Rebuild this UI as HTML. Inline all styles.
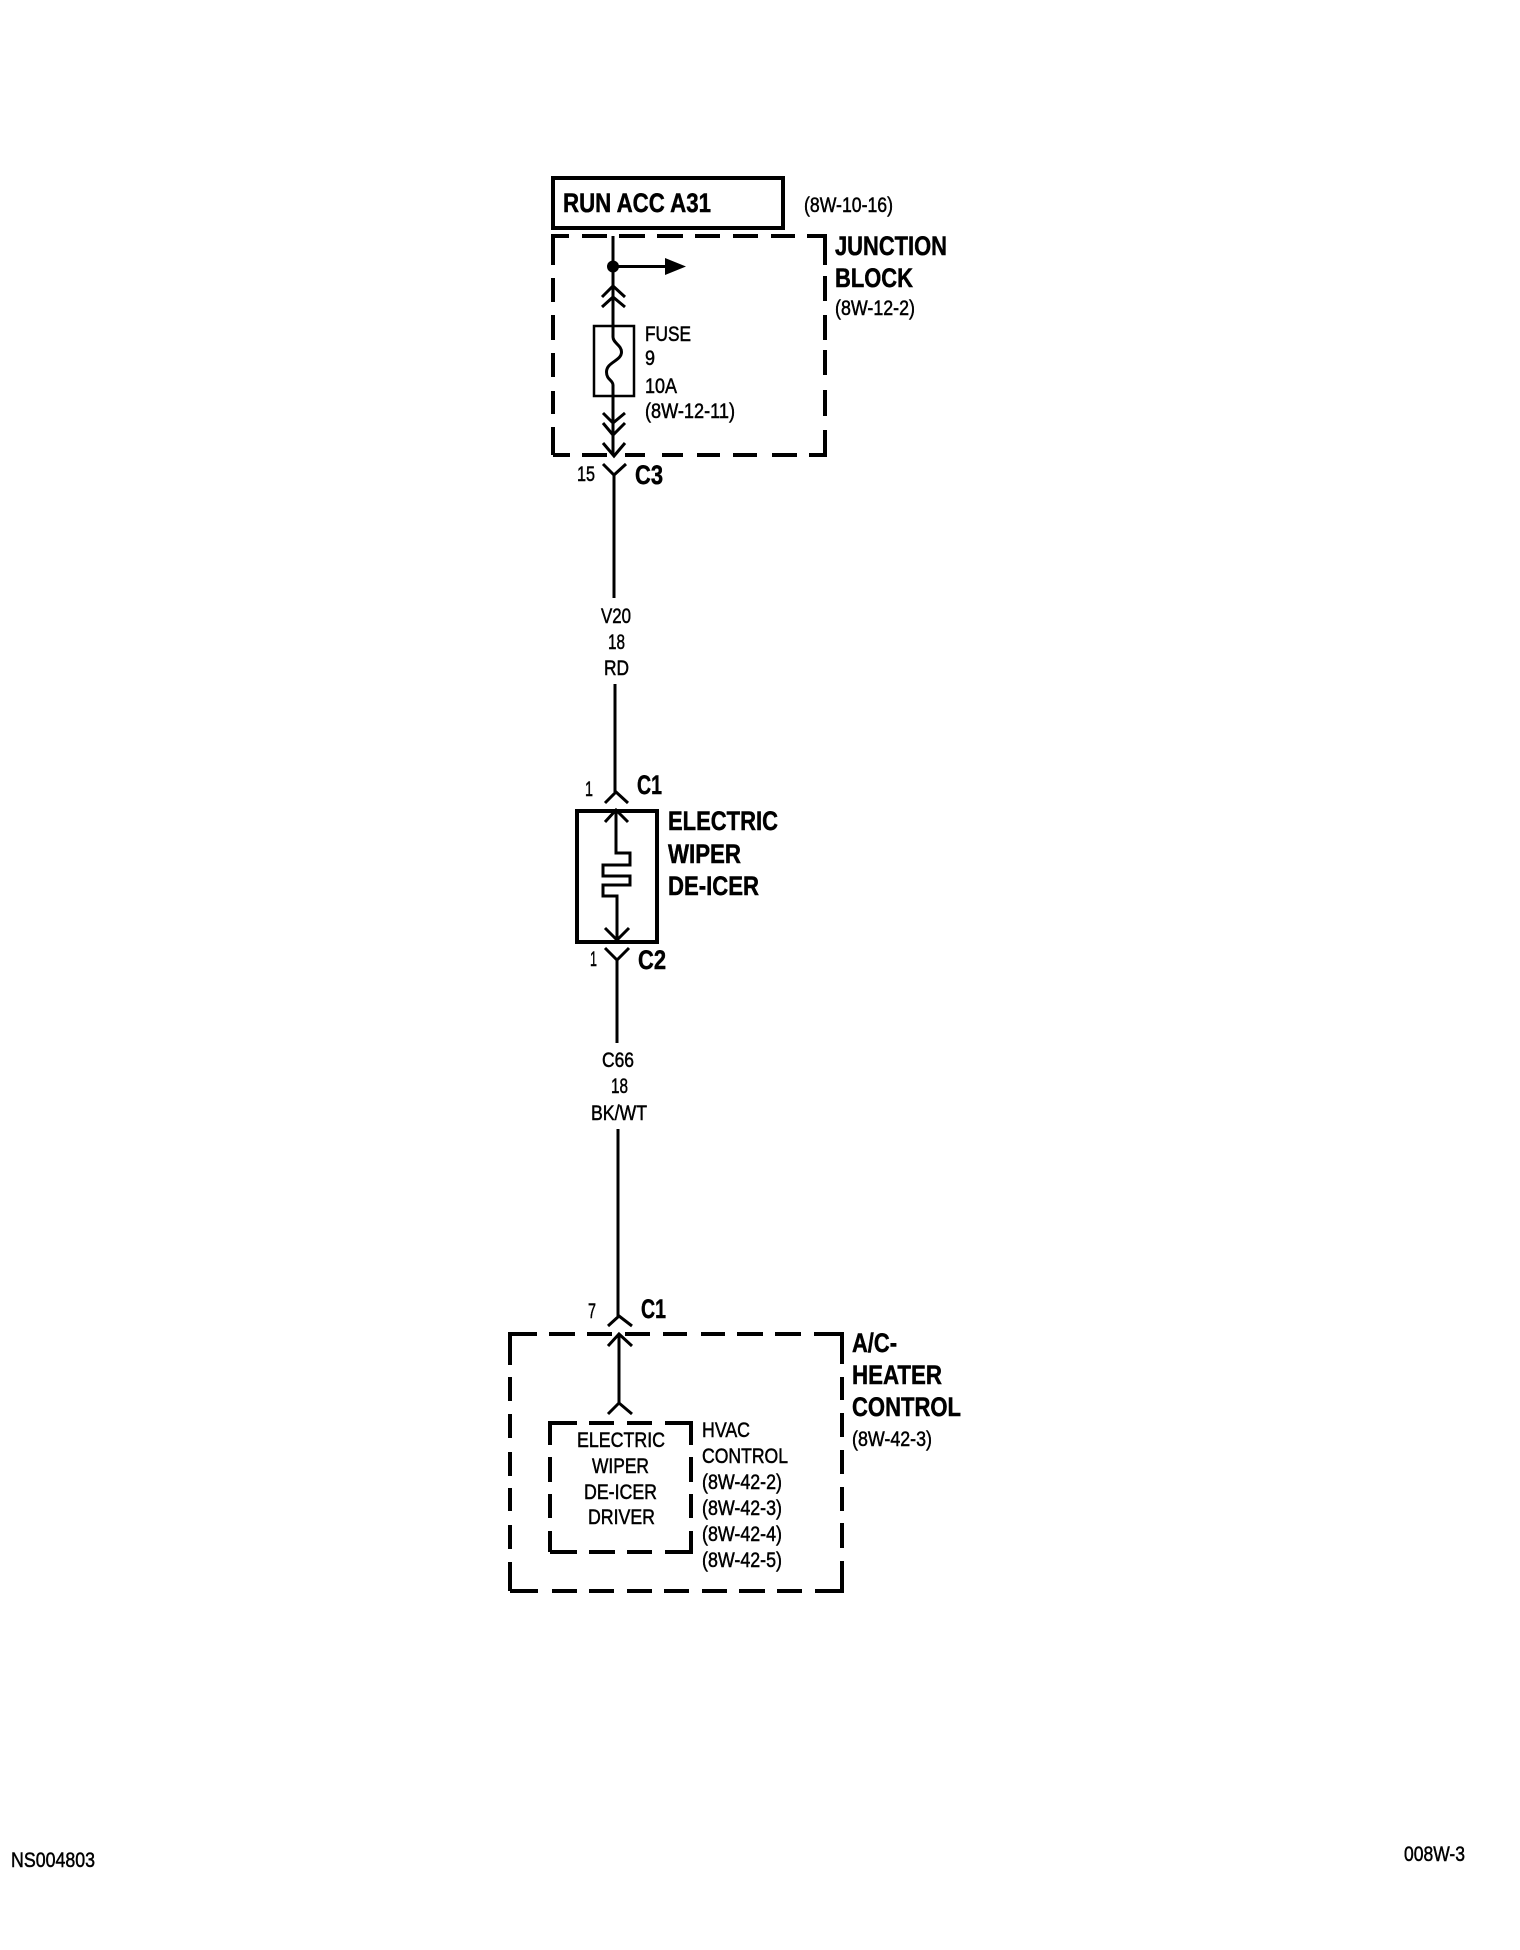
<!DOCTYPE html>
<html><head><meta charset="utf-8"><style>
html,body{margin:0;padding:0;background:#fff}
svg{display:block}
text{font-family:"Liberation Sans",sans-serif;fill:#000;stroke:#000;stroke-width:.5px}
.b{font-weight:bold;font-size:27px}
.n{font-size:21px}
.w{fill:none;stroke:#000;stroke-width:3}
.d{fill:none;stroke:#000;stroke-width:4}
</style></head><body>
<svg xmlns="http://www.w3.org/2000/svg" width="1520" height="1950" viewBox="0 0 1520 1950">
<rect width="1520" height="1950" fill="#fff"/>
<rect x="553" y="178" width="230" height="50" fill="none" stroke="#000" stroke-width="4"/>
<text class="b" x="563" y="212" textLength="148" lengthAdjust="spacingAndGlyphs">RUN ACC A31</text>
<text class="n" x="804" y="212" textLength="89" lengthAdjust="spacingAndGlyphs">(8W-10-16)</text>

<path class="d" d="M553 265V236H569M582 236H607M619 236H645M657 236H683M695 236H720M733 236H758M771 236H795M807 236H825V265M825 276V301M825 315V340M825 350V375M825 390V416M825 430V455H809M797 455H772M757 455H733M697 455H720M662 455H683M625 455H645M582 455H607M553 455H570"/>
<path class="d" d="M553 278V302M553 315V340M553 353V377M553 391V414M553 427V455"/>
<path class="w" d="M613 236V337C613 343 621.500 345 621.500 352C621.500 361 606.500 362 606.500 372C606.500 380 613 380 613 385V455M614 475V598M615 684V792"/>
<circle cx="613" cy="266.500" r="6"/>
<path class="w" d="M613 266.500H666"/>
<path d="M665 258L686 266.500L665 275Z"/>
<path class="w" d="M602 297L613 286L625 297M602 307L613 297L625 307M603 413L613 423L625 413M603 423L613 435L625 423M603 443L614 456L625 443M603 464L614 475L626 464"/>
<rect x="594" y="326" width="40" height="70" fill="none" stroke="#000" stroke-width="2.500"/>
<text class="n" x="645" y="341" textLength="46" lengthAdjust="spacingAndGlyphs">FUSE</text>
<text class="n" x="645" y="365" textLength="10" lengthAdjust="spacingAndGlyphs">9</text>
<text class="n" x="645" y="393" textLength="32" lengthAdjust="spacingAndGlyphs">10A</text>
<text class="n" x="645" y="418" textLength="90" lengthAdjust="spacingAndGlyphs">(8W-12-11)</text>
<text class="b" x="835" y="255" textLength="112" lengthAdjust="spacingAndGlyphs">JUNCTION</text>
<text class="b" x="835" y="287" textLength="78" lengthAdjust="spacingAndGlyphs">BLOCK</text>
<text class="n" x="835" y="315" textLength="80" lengthAdjust="spacingAndGlyphs">(8W-12-2)</text>
<text class="n" x="577" y="481" textLength="18" lengthAdjust="spacingAndGlyphs">15</text>
<text class="b" x="635" y="484" textLength="28" lengthAdjust="spacingAndGlyphs">C3</text>

<text class="n" x="601" y="623" textLength="30" lengthAdjust="spacingAndGlyphs">V20</text>
<text class="n" x="608" y="649" textLength="17" lengthAdjust="spacingAndGlyphs">18</text>
<text class="n" x="604" y="675" textLength="25" lengthAdjust="spacingAndGlyphs">RD</text>

<text class="n" x="585" y="796" textLength="8" lengthAdjust="spacingAndGlyphs">1</text>
<text class="b" x="637" y="794" textLength="25" lengthAdjust="spacingAndGlyphs">C1</text>
<path class="w" d="M605 803L616 792L628 803"/>
<rect x="577" y="811" width="80" height="131" fill="none" stroke="#000" stroke-width="4"/>
<path class="w" d="M605 822L616 810L628 822M616 810V853H630V865H603V876H630V885H603V896H617V942M605 928L617 940L629 928"/>
<path class="w" d="M605 948L617 960L629 948M617 960V1043M618 1129V1316"/>
<text class="n" x="590" y="966" textLength="7" lengthAdjust="spacingAndGlyphs">1</text>
<text class="b" x="638" y="969" textLength="28" lengthAdjust="spacingAndGlyphs">C2</text>
<text class="b" x="668" y="830" textLength="110" lengthAdjust="spacingAndGlyphs">ELECTRIC</text>
<text class="b" x="668" y="863" textLength="73" lengthAdjust="spacingAndGlyphs">WIPER</text>
<text class="b" x="668" y="895" textLength="91" lengthAdjust="spacingAndGlyphs">DE-ICER</text>

<text class="n" x="602" y="1067" textLength="32" lengthAdjust="spacingAndGlyphs">C66</text>
<text class="n" x="611" y="1093" textLength="17" lengthAdjust="spacingAndGlyphs">18</text>
<text class="n" x="591" y="1120" textLength="56" lengthAdjust="spacingAndGlyphs">BK/WT</text>

<text class="n" x="588" y="1318" textLength="8" lengthAdjust="spacingAndGlyphs">7</text>
<text class="b" x="641" y="1318" textLength="25" lengthAdjust="spacingAndGlyphs">C1</text>
<path class="w" d="M608 1326L619 1316L632 1326M608 1346L619 1334L632 1346M619 1334V1403M608 1414L619 1403L632 1414"/>
<path class="d" d="M510 1365V1334H537M549 1334H575M587 1334H612M625 1334H650M663 1334H687M701 1334H725M737 1334H763M775 1334H801M814 1334H842V1364M842 1377V1400M842 1413V1437M842 1450V1474M842 1487V1511M842 1523V1548M842 1561V1591H815M802 1591H777M765 1591H739M727 1591H702M689 1591H664M652 1591H627M614 1591H589M552 1591H577M510 1591H538M510 1591V1562M510 1549V1525M510 1511V1488M510 1476V1452M510 1438V1414M510 1401V1377"/>
<path class="d" d="M550 1445V1423H577M589 1423H614M627 1423H652M665 1423H691V1445M691 1457V1482M691 1494V1518M691 1531V1552H665M652 1552H627M589 1552H615M550 1552H577M550 1552V1531M550 1518V1494M550 1482V1457"/>
<text class="n" x="577" y="1447" textLength="88" lengthAdjust="spacingAndGlyphs">ELECTRIC</text>
<text class="n" x="592" y="1473" textLength="57" lengthAdjust="spacingAndGlyphs">WIPER</text>
<text class="n" x="584" y="1499" textLength="73" lengthAdjust="spacingAndGlyphs">DE-ICER</text>
<text class="n" x="588" y="1524" textLength="67" lengthAdjust="spacingAndGlyphs">DRIVER</text>
<text class="n" x="702" y="1437" textLength="48" lengthAdjust="spacingAndGlyphs">HVAC</text>
<text class="n" x="702" y="1463" textLength="86" lengthAdjust="spacingAndGlyphs">CONTROL</text>
<text class="n" x="702" y="1489" textLength="80" lengthAdjust="spacingAndGlyphs">(8W-42-2)</text>
<text class="n" x="702" y="1515" textLength="80" lengthAdjust="spacingAndGlyphs">(8W-42-3)</text>
<text class="n" x="702" y="1541" textLength="80" lengthAdjust="spacingAndGlyphs">(8W-42-4)</text>
<text class="n" x="702" y="1567" textLength="80" lengthAdjust="spacingAndGlyphs">(8W-42-5)</text>
<text class="b" x="852" y="1352" textLength="45" lengthAdjust="spacingAndGlyphs">A/C-</text>
<text class="b" x="852" y="1384" textLength="90" lengthAdjust="spacingAndGlyphs">HEATER</text>
<text class="b" x="852" y="1416" textLength="109" lengthAdjust="spacingAndGlyphs">CONTROL</text>
<text class="n" x="852" y="1446" textLength="80" lengthAdjust="spacingAndGlyphs">(8W-42-3)</text>

<text class="n" x="11" y="1867" textLength="84" lengthAdjust="spacingAndGlyphs">NS004803</text>
<text class="n" x="1404" y="1861" textLength="61" lengthAdjust="spacingAndGlyphs">008W-3</text>
</svg>
</body></html>
